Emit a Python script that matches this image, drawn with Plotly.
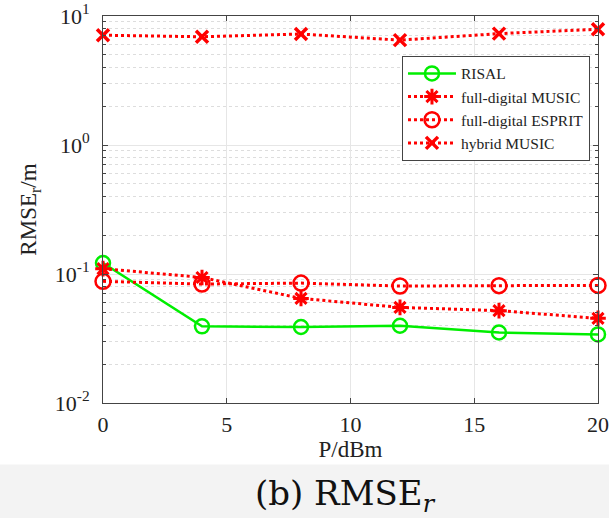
import plotly.graph_objects as go

P = [0, 4, 8, 12, 16, 20]
risal = [0.1216, 0.0393, 0.0388, 0.0397, 0.0352, 0.0340]
fd_music = [0.110, 0.094, 0.0647, 0.0551, 0.0520, 0.0453]
fd_esprit = [0.0877, 0.0836, 0.0850, 0.0807, 0.0812, 0.0816]
hybrid_music = [7.1, 6.9, 7.25, 6.5, 7.3, 7.9]

names = ["RISAL", "full-digital MUSIC", "full-digital ESPRIT", "hybrid MUSIC"]
ytickvals = [0.01, 0.1, 1, 10]
yticktext = ["10<sup>-2</sup>", "10<sup>-1</sup>", "10<sup>0</sup>", "10<sup>1</sup>"]
xtickvals = [0, 5, 10, 15, 20]

FONT = "Times New Roman, Liberation Serif, serif"
RED = "#ff0000"
GREEN = "#00ee00"

fig = go.Figure()
fig.add_trace(go.Scatter(x=P, y=risal, name=names[0], mode="lines+markers",
                         line=dict(color=GREEN, width=2.5),
                         marker=dict(symbol="circle-open", size=14, color=GREEN, line=dict(width=2.5)),
                         cliponaxis=False))
fig.add_trace(go.Scatter(x=P, y=fd_music, name=names[1], mode="lines+markers",
                         line=dict(color=RED, width=3, dash="dot"),
                         marker=dict(symbol="asterisk-open", size=13, color=RED, line=dict(width=3, color=RED)),
                         cliponaxis=False))
fig.add_trace(go.Scatter(x=P, y=fd_esprit, name=names[2], mode="lines+markers",
                         line=dict(color=RED, width=3, dash="dot"),
                         marker=dict(symbol="circle-open", size=15, color=RED, line=dict(width=2.5)),
                         cliponaxis=False))
fig.add_trace(go.Scatter(x=P, y=hybrid_music, name=names[3], mode="lines+markers",
                         line=dict(color=RED, width=3, dash="dot"),
                         marker=dict(symbol="x-thin-open", size=12, color=RED, line=dict(width=3.5, color=RED)),
                         cliponaxis=False))

minor_vals = [m * 10 ** e for e in (-2, -1, 0) for m in range(2, 10)]

fig.update_layout(
    width=609, height=518,
    margin=dict(l=103, r=11, t=16, b=115),
    paper_bgcolor="white", plot_bgcolor="white",
    font=dict(family=FONT, size=22, color="#222222"),
    showlegend=True,
    legend=dict(x=0.604, y=0.897, xanchor="left", yanchor="top",
                bgcolor="white", bordercolor="#444444", borderwidth=1,
                font=dict(family=FONT, size=15.5, color="#222222"),
                tracegroupgap=0, itemwidth=48),
    xaxis=dict(range=[0, 20], tickvals=xtickvals, ticks="inside", ticklen=5,
               automargin=False,
               showline=True, linecolor="#444444", linewidth=1, mirror="allticks",
               showgrid=True, gridcolor="#e6e6e6", gridwidth=1, zeroline=False,
               ticklabelstandoff=2,
               title=dict(text="P/dBm", standoff=0, font=dict(family=FONT, size=23)),
               tickfont=dict(family=FONT, size=22)),
    yaxis=dict(type="log", range=[-2, 1], tickvals=ytickvals, ticktext=yticktext,
               ticks="inside", ticklen=5,
               automargin=False,
               showline=True, linecolor="#444444", linewidth=1, mirror="allticks",
               showgrid=True, gridcolor="#e6e6e6", gridwidth=1, zeroline=False,
               ticklabelstandoff=8,
               minor=dict(tickvals=minor_vals, ticks="inside", ticklen=3,
                          showgrid=True, gridcolor="#dddddd", griddash="dot", gridwidth=1),
               title=dict(text="RMSE<sub>r</sub>/m", standoff=11, font=dict(family=FONT, size=23)),
               tickfont=dict(family=FONT, size=22)),
)

fig.add_shape(type="rect", xref="paper", yref="paper", x0=-0.3, x1=1.05, y0=-0.3, y1=-0.159,
              fillcolor="#f3f3f3", line=dict(width=0), layer="below")

fig.add_annotation(text="(b) RMSE<sub><i>r</i></sub>", xref="paper", yref="paper",
                   x=0.489, y=-0.238, xanchor="center", yanchor="middle", showarrow=False,
                   font=dict(family="DejaVu Serif", size=34, color="#111111"))

fig.write_html("out.html")
